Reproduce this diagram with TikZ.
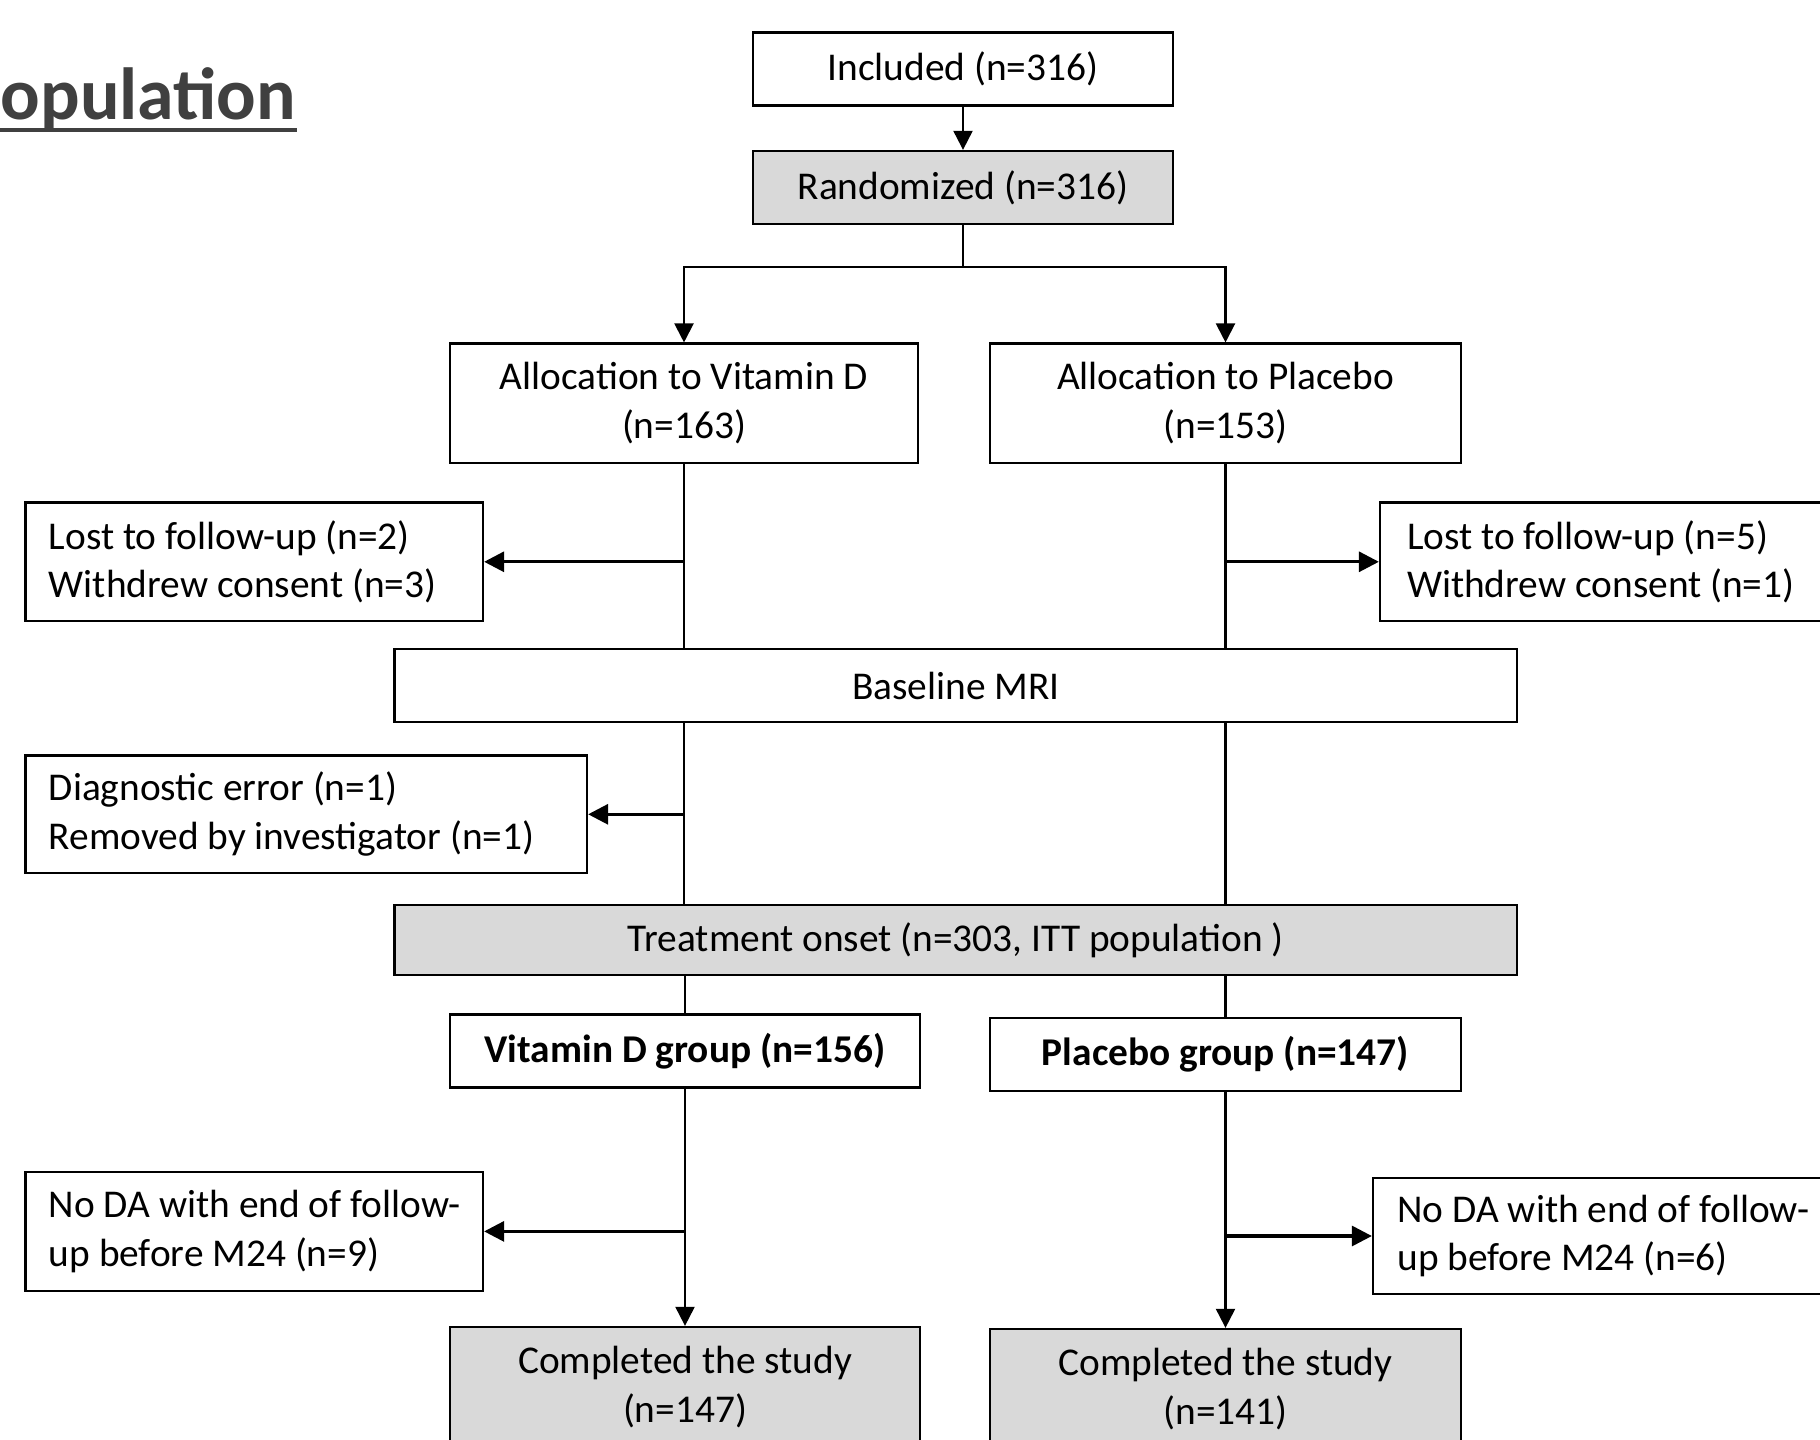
\documentclass[tikz,border=0pt]{standalone}
\usepackage{fontspec}
\setmainfont{Carlito}
\usetikzlibrary{arrows.meta}
\definecolor{boxgray}{HTML}{D9D9D9}
\definecolor{titlegray}{HTML}{404040}
\newcommand{\tightsp}{\spaceskip=0pt\xspaceskip=0pt\relax}
\begin{document}
\begin{tikzpicture}[x=0.1mm,y=-0.1mm,
  every node/.style={font=\fontsize{11.2pt}{13.9pt}\selectfont},
  box/.style={draw=black, line width=0.65pt, inner xsep=1mm, inner ysep=0pt, align=center},
  gbox/.style={box, fill=boxgray},
  sidebox/.style={draw=black, line width=0.65pt, inner ysep=0pt, align=left},
  conn/.style={draw=black, line width=0.6pt},
  arr/.style={conn, -{Triangle[length=1.9mm,width=1.9mm]}},
  sarr/.style={draw=black, line width=0.9pt, -{Triangle[length=2mm,width=2mm]}}
]
\useasboundingbox (0,0) rectangle (1820,1440);

% title
\node[anchor=base west, inner sep=0pt, text=titlegray,
      font=\fontsize{21pt}{25pt}\selectfont\bfseries] (title) at (0,120) {opulation};
\draw[titlegray, line width=1.2pt] (0,130) -- (title.base east |- 0,130);

% main boxes
\node[box, minimum width=42mm, minimum height=7.3mm] (inc) at (963,69) {Included (n=316)};
\node[gbox, minimum width=42mm, minimum height=7.3mm] (rand) at (963,187.5) {Randomized (n=316)};
\node[box, minimum width=46.8mm, minimum height=11.94mm] (allocV) at (684,403.3) {Allocation to Vitamin D\\(n=163)};
\node[box, minimum width=47.1mm, minimum height=11.94mm] (allocP) at (1225.5,403.3) {Allocation to Placebo\\(n=153)};
\node[box, minimum width=112.24mm, minimum height=7.3mm] (base) at (955.8,685.5) {Baseline MRI};
\node[gbox, minimum width=112.24mm, minimum height=7.0mm] (treat) at (955.8,940) {Treatment onset (n=303, ITT population )};
\node[box, minimum width=47mm, minimum height=7.31mm, font=\fontsize{11.2pt}{13.9pt}\selectfont\bfseries] (vgrp) at (685,1051) {Vitamin D group (n=156)};
\node[box, minimum width=47.1mm, minimum height=7.31mm, font=\fontsize{11.2pt}{13.9pt}\selectfont\bfseries] (pgrp) at (1225.5,1054.5) {Placebo group (n=147)};
\node[gbox, minimum width=47mm, minimum height=12mm] (compL) at (685,1387) {Completed the study\\(n=147)};
\node[gbox, minimum width=47.1mm, minimum height=12mm] (compR) at (1225.5,1389) {Completed the study\\(n=141)};

% side boxes
\node[sidebox, inner xsep=2.32mm, text width=41.1mm, minimum height=11.84mm] (lostL) at (254.3,561.8) {\tightsp\mbox{Lost to follow-up (n=2)}\\\mbox{Withdrew consent (n=3)}};
\node[sidebox, inner xsep=2.7mm, text width=40.3mm, minimum height=11.84mm] (lostR) at (1608.5,561.8) {\tightsp\mbox{Lost to follow-up (n=5)}\\\mbox{Withdrew consent (n=1)}};
\node[sidebox, inner xsep=2.32mm, text width=51.5mm, minimum height=11.74mm] (diag) at (306.3,814.3) {\tightsp\mbox{Diagnostic error (n=1)}\\\mbox{Removed by investigator (n=1)}};
\node[sidebox, inner xsep=2.32mm, text width=41.1mm, minimum height=11.87mm] (noL) at (254.3,1231.4) {\tightsp\mbox{No DA with end of follow-}\\\mbox{up before M24 (n=9)}};
\node[sidebox, inner xsep=2.45mm, text width=40.8mm, minimum height=11.6mm] (noR) at (1601.5,1236) {\tightsp\mbox{No DA with end of follow-}\\\mbox{up before M24 (n=6)}};

% connectors
\draw[arr] (inc.south) -- (rand.north);
\path (rand.south) ++(0,42) coordinate (br);
\draw[conn] (rand.south) -- (br);
\draw[arr] (br) -| (allocV.north);
\draw[arr] (br) -| (allocP.north);

\draw[conn] (allocV.south) -- (allocV.south |- base.north);
\draw[conn] (allocP.south) -- (allocP.south |- base.north);
\draw[sarr] (allocV.south |- lostL.east) -- (lostL.east);
\draw[sarr] (allocP.south |- lostR.west) -- (lostR.west);

\draw[conn] (allocV.south |- base.south) -- (allocV.south |- treat.north);
\draw[conn] (allocP.south |- base.south) -- (allocP.south |- treat.north);
\draw[sarr] (allocV.south |- diag.east) -- (diag.east);

\draw[conn] (vgrp.north |- treat.south) -- (vgrp.north);
\draw[conn] (pgrp.north |- treat.south) -- (pgrp.north);

\draw[arr] (vgrp.south) -- (compL.north);
\draw[arr] (pgrp.south) -- (compR.north);
\draw[sarr] (vgrp.south |- noL.east) -- (noL.east);
\draw[sarr] (pgrp.south |- noR.west) -- (noR.west);
\end{tikzpicture}
\end{document}
